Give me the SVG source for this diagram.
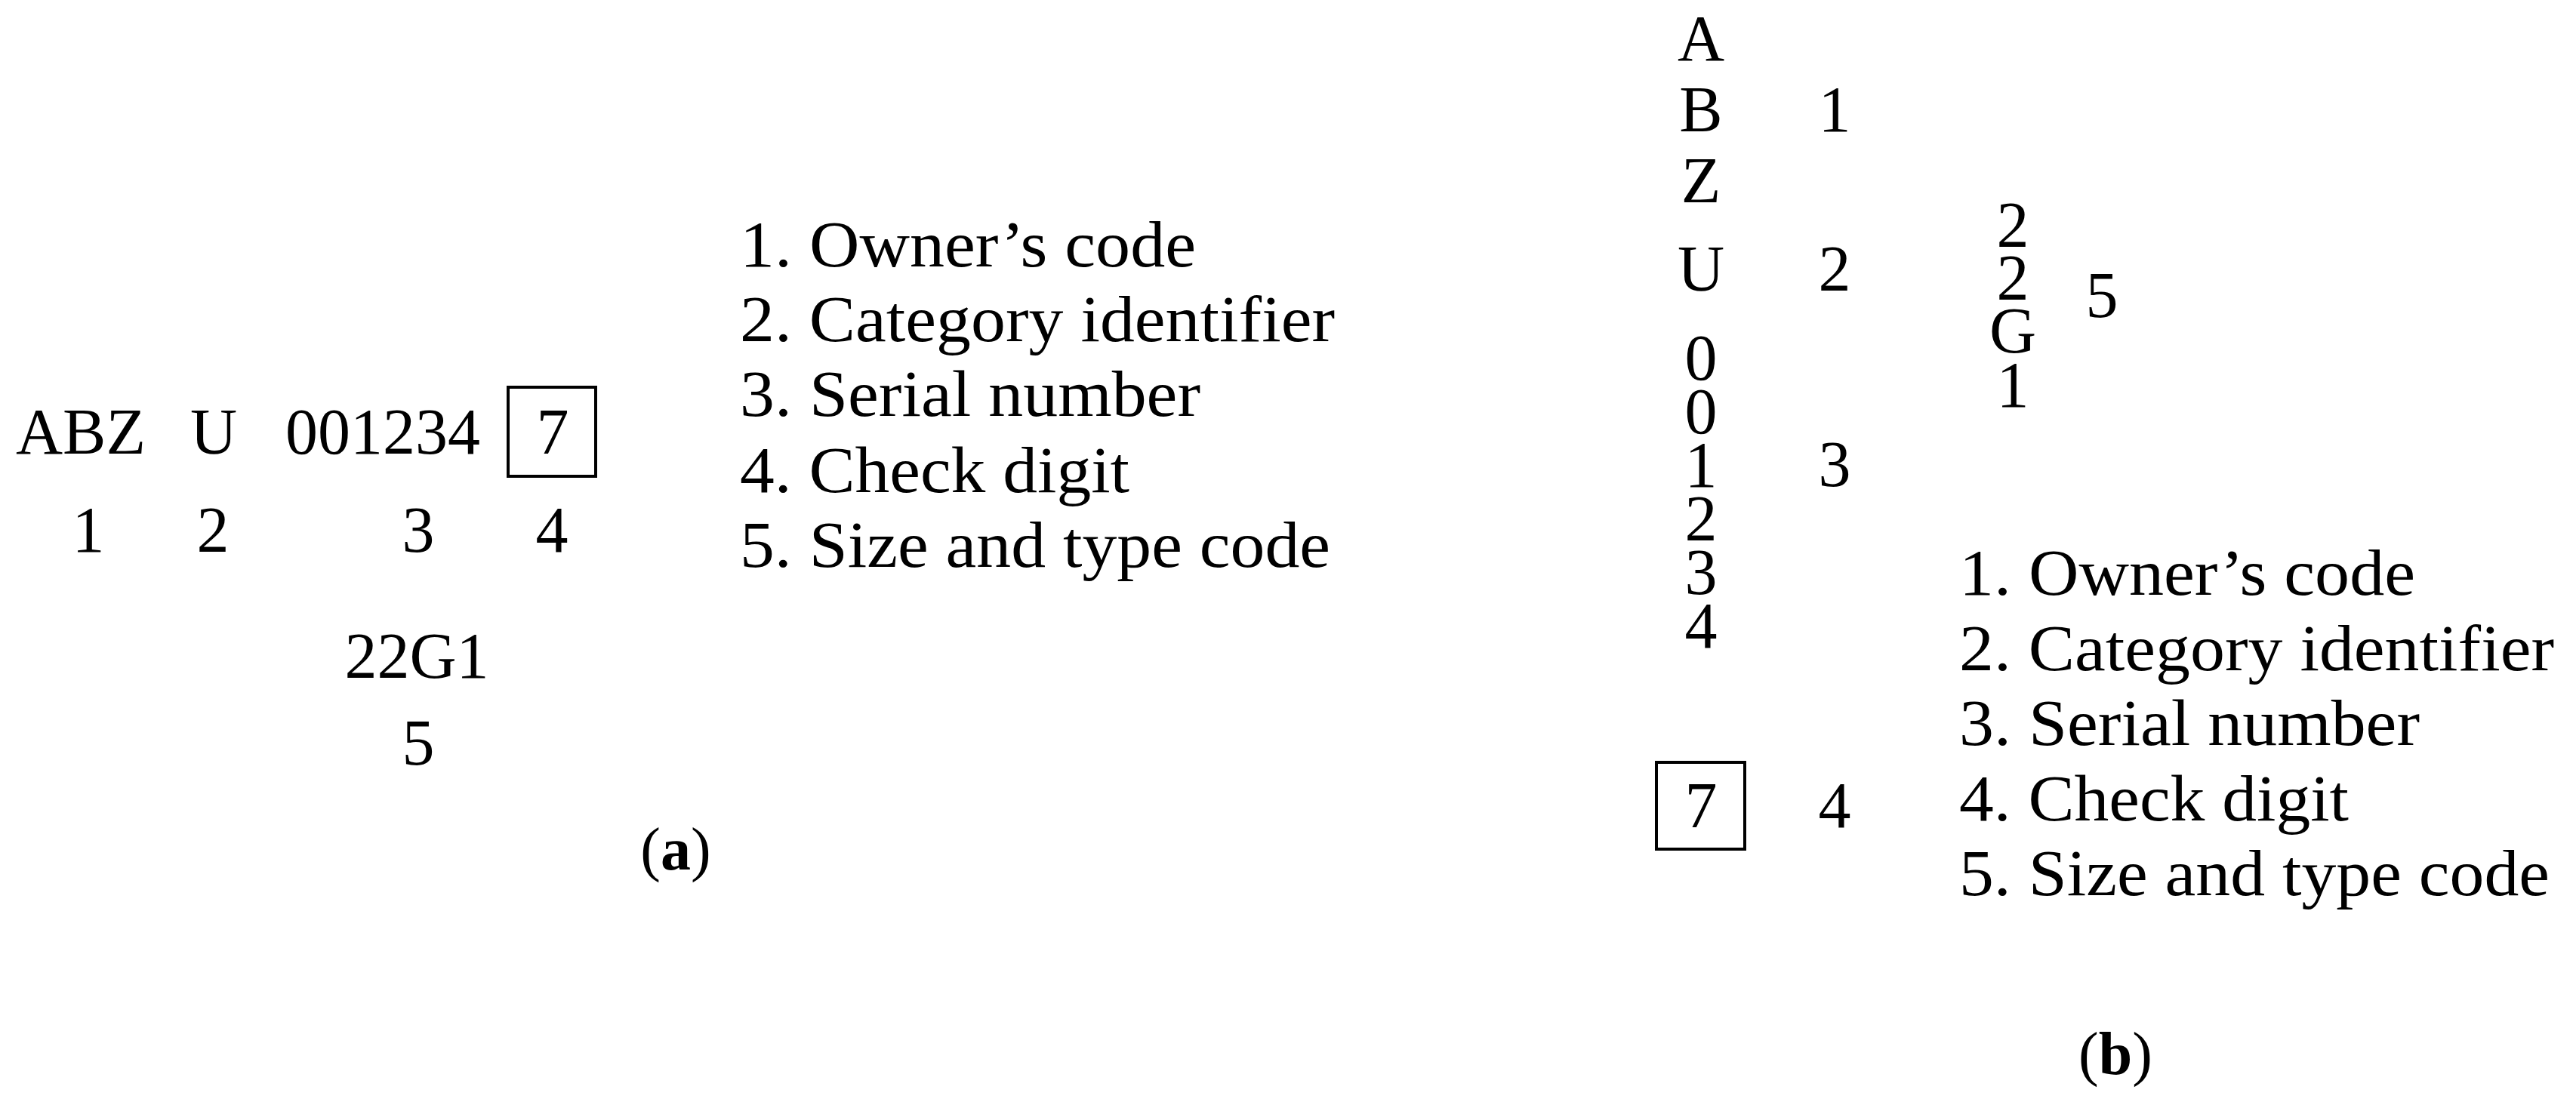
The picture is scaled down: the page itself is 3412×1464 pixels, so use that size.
<svg xmlns="http://www.w3.org/2000/svg" width="3412" height="1464" viewBox="0 0 3412 1464">
<style>
text{font-family:"Liberation Serif","Times New Roman",serif;font-size:86px;fill:#000}
.m{text-anchor:middle}
.box{fill:none;stroke:#000;stroke-width:4}
.lbl{font-size:80px}
.b{font-weight:bold}
</style>
<rect width="3412" height="1464" fill="#fff"/>
<g id="panel-a">
  <g id="a-code">
    <text x="21" y="601">ABZ</text>
    <text class="m" x="283" y="601">U</text>
    <text class="m" x="507" y="601">001234</text>
    <rect class="box" x="673" y="513" width="116" height="118"/>
    <text class="m" x="732" y="601">7</text>
  </g>
  <g id="a-numbers">
    <text class="m" x="117" y="731">1</text>
    <text class="m" x="282" y="731">2</text>
    <text class="m" x="554" y="731">3</text>
    <text class="m" x="731" y="731">4</text>
  </g>
  <g id="a-size">
    <text class="m" x="552" y="898">22G1</text>
    <text class="m" x="554" y="1013">5</text>
  </g>
  <g id="a-legend">
    <text x="980" y="353" textLength="604" lengthAdjust="spacingAndGlyphs">1. Owner’s code</text>
    <text x="980" y="452" textLength="788" lengthAdjust="spacingAndGlyphs">2. Category identifier</text>
    <text x="980" y="551" textLength="610" lengthAdjust="spacingAndGlyphs">3. Serial number</text>
    <text x="980" y="652" textLength="516" lengthAdjust="spacingAndGlyphs">4. Check digit</text>
    <text x="980" y="751" textLength="782" lengthAdjust="spacingAndGlyphs">5. Size and type code</text>
  </g>
  <text class="m lbl" x="895" y="1152">(<tspan class="b">a</tspan>)</text>
</g>
<g id="panel-b">
  <g id="b-code">
    <text class="m" x="2253" y="80">A</text>
    <text class="m" x="2253" y="174">B</text>
    <text class="m" x="2253" y="268">Z</text>
    <text class="m" x="2253" y="385">U</text>
    <text class="m" x="2253" y="503">0</text>
    <text class="m" x="2253" y="574">0</text>
    <text class="m" x="2253" y="645">1</text>
    <text class="m" x="2253" y="716">2</text>
    <text class="m" x="2253" y="787">3</text>
    <text class="m" x="2253" y="858">4</text>
    <rect class="box" x="2194" y="1010" width="117" height="115"/>
    <text class="m" x="2253" y="1096">7</text>
  </g>
  <g id="b-numbers">
    <text class="m" x="2430" y="174">1</text>
    <text class="m" x="2430" y="385">2</text>
    <text class="m" x="2430" y="644">3</text>
    <text class="m" x="2430" y="1096">4</text>
  </g>
  <g id="b-size">
    <text class="m" x="2666" y="327">2</text>
    <text class="m" x="2666" y="397">2</text>
    <text class="m" x="2666" y="467">G</text>
    <text class="m" x="2666" y="539">1</text>
    <text class="m" x="2784" y="420">5</text>
  </g>
  <g id="b-legend">
    <text x="2595" y="788" textLength="604" lengthAdjust="spacingAndGlyphs">1. Owner’s code</text>
    <text x="2595" y="888" textLength="788" lengthAdjust="spacingAndGlyphs">2. Category identifier</text>
    <text x="2595" y="987" textLength="610" lengthAdjust="spacingAndGlyphs">3. Serial number</text>
    <text x="2595" y="1087" textLength="516" lengthAdjust="spacingAndGlyphs">4. Check digit</text>
    <text x="2595" y="1186" textLength="782" lengthAdjust="spacingAndGlyphs">5. Size and type code</text>
  </g>
  <text class="m lbl" x="2802" y="1423">(<tspan class="b">b</tspan>)</text>
</g>
<g id="connectors"/>
</svg>
